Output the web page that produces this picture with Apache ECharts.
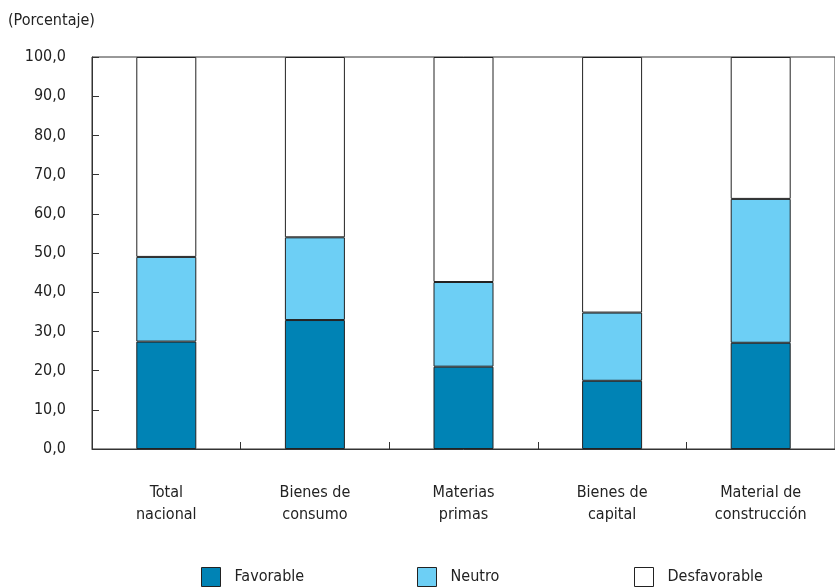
<!DOCTYPE html>
<html>
<head>
<meta charset="utf-8">
<script src="https://cdn.jsdelivr.net/npm/echarts@6/dist/echarts.min.js"></script>
<style>
  html, body { margin: 0; padding: 0; background: #fff; }
  #chart { width: 835px; height: 588px; }
</style>
</head>
<body>
<div id="chart"></div>
<script>
// Categories and stacked shares (percent)
const categories = ['Total\nnacional', 'Bienes de\nconsumo', 'Materias\nprimas', 'Bienes de\ncapital', 'Material de\nconstrucción'];
const favorable = [27.4, 32.9, 21.0, 17.4, 27.1];
const neutro = [21.6, 21.1, 21.6, 17.4, 36.7];
const desfavorable = [51.0, 46.0, 57.4, 65.2, 36.2];
const seriesNames = ['Favorable', 'Neutro', 'Desfavorable'];
const yTicks = [0, 10, 20, 30, 40, 50, 60, 70, 80, 90, 100];

const FONT = "'DejaVu Sans Condensed', 'Roboto', sans-serif";
const FS = 16;
const colors = ['#0083b5', '#6dcff5', '#ffffff'];

const chart = echarts.init(document.getElementById('chart'), null, { renderer: 'canvas' });

const legendBase = {
  top: 567,
  padding: 0,
  icon: 'rect',
  itemWidth: 19,
  itemHeight: 19,
  itemGap: 0,
  itemStyle: { borderColor: '#222', borderWidth: 1 },
  textStyle: { fontFamily: FONT, fontSize: FS, color: '#222', padding: [0, 0, 0, 9] },
  selectedMode: false
};

chart.setOption({
  animation: false,
  title: {
    text: '(Porcentaje)',
    left: 3,
    top: 8,
    textStyle: { fontFamily: FONT, fontSize: FS, fontWeight: 'normal', color: '#222' }
  },
  legend: [
    Object.assign({}, legendBase, { left: 201, data: [seriesNames[0]] }),
    Object.assign({}, legendBase, { left: 417, data: [seriesNames[1]] }),
    Object.assign({}, legendBase, { left: 634, data: [seriesNames[2]] })
  ],
  grid: {
    left: 92,
    top: 57,
    width: 750,
    height: 392,
    show: true,
    borderColor: '#333',
    borderWidth: 1,
    backgroundColor: 'transparent'
  },
  xAxis: {
    type: 'category',
    data: categories,
    axisLine: { lineStyle: { color: '#333', width: 1 } },
    axisTick: { show: true, inside: true, length: 7, lineStyle: { color: '#333', width: 1 } },
    axisLabel: {
      margin: 33,
      fontFamily: FONT,
      fontSize: FS,
      lineHeight: 22,
      color: '#222',
      interval: 0
    }
  },
  yAxis: {
    type: 'value',
    min: yTicks[0],
    max: yTicks[yTicks.length - 1],
    interval: 10,
    splitLine: { show: false },
    axisLine: { show: true, lineStyle: { color: '#333', width: 1 } },
    axisTick: { show: true, inside: true, length: 7, lineStyle: { color: '#333' } },
    axisLabel: {
      margin: 26,
      fontFamily: FONT,
      fontSize: FS,
      color: '#222',
      formatter: v => v.toFixed(1).replace('.', ',')
    }
  },
  series: [favorable, neutro, desfavorable].map((d, i) => ({
    name: seriesNames[i],
    type: 'bar',
    stack: 'total',
    barWidth: 60,
    data: d,
    itemStyle: { color: colors[i], borderColor: '#222', borderWidth: 1 }
  }))
});
</script>
</body>
</html>
